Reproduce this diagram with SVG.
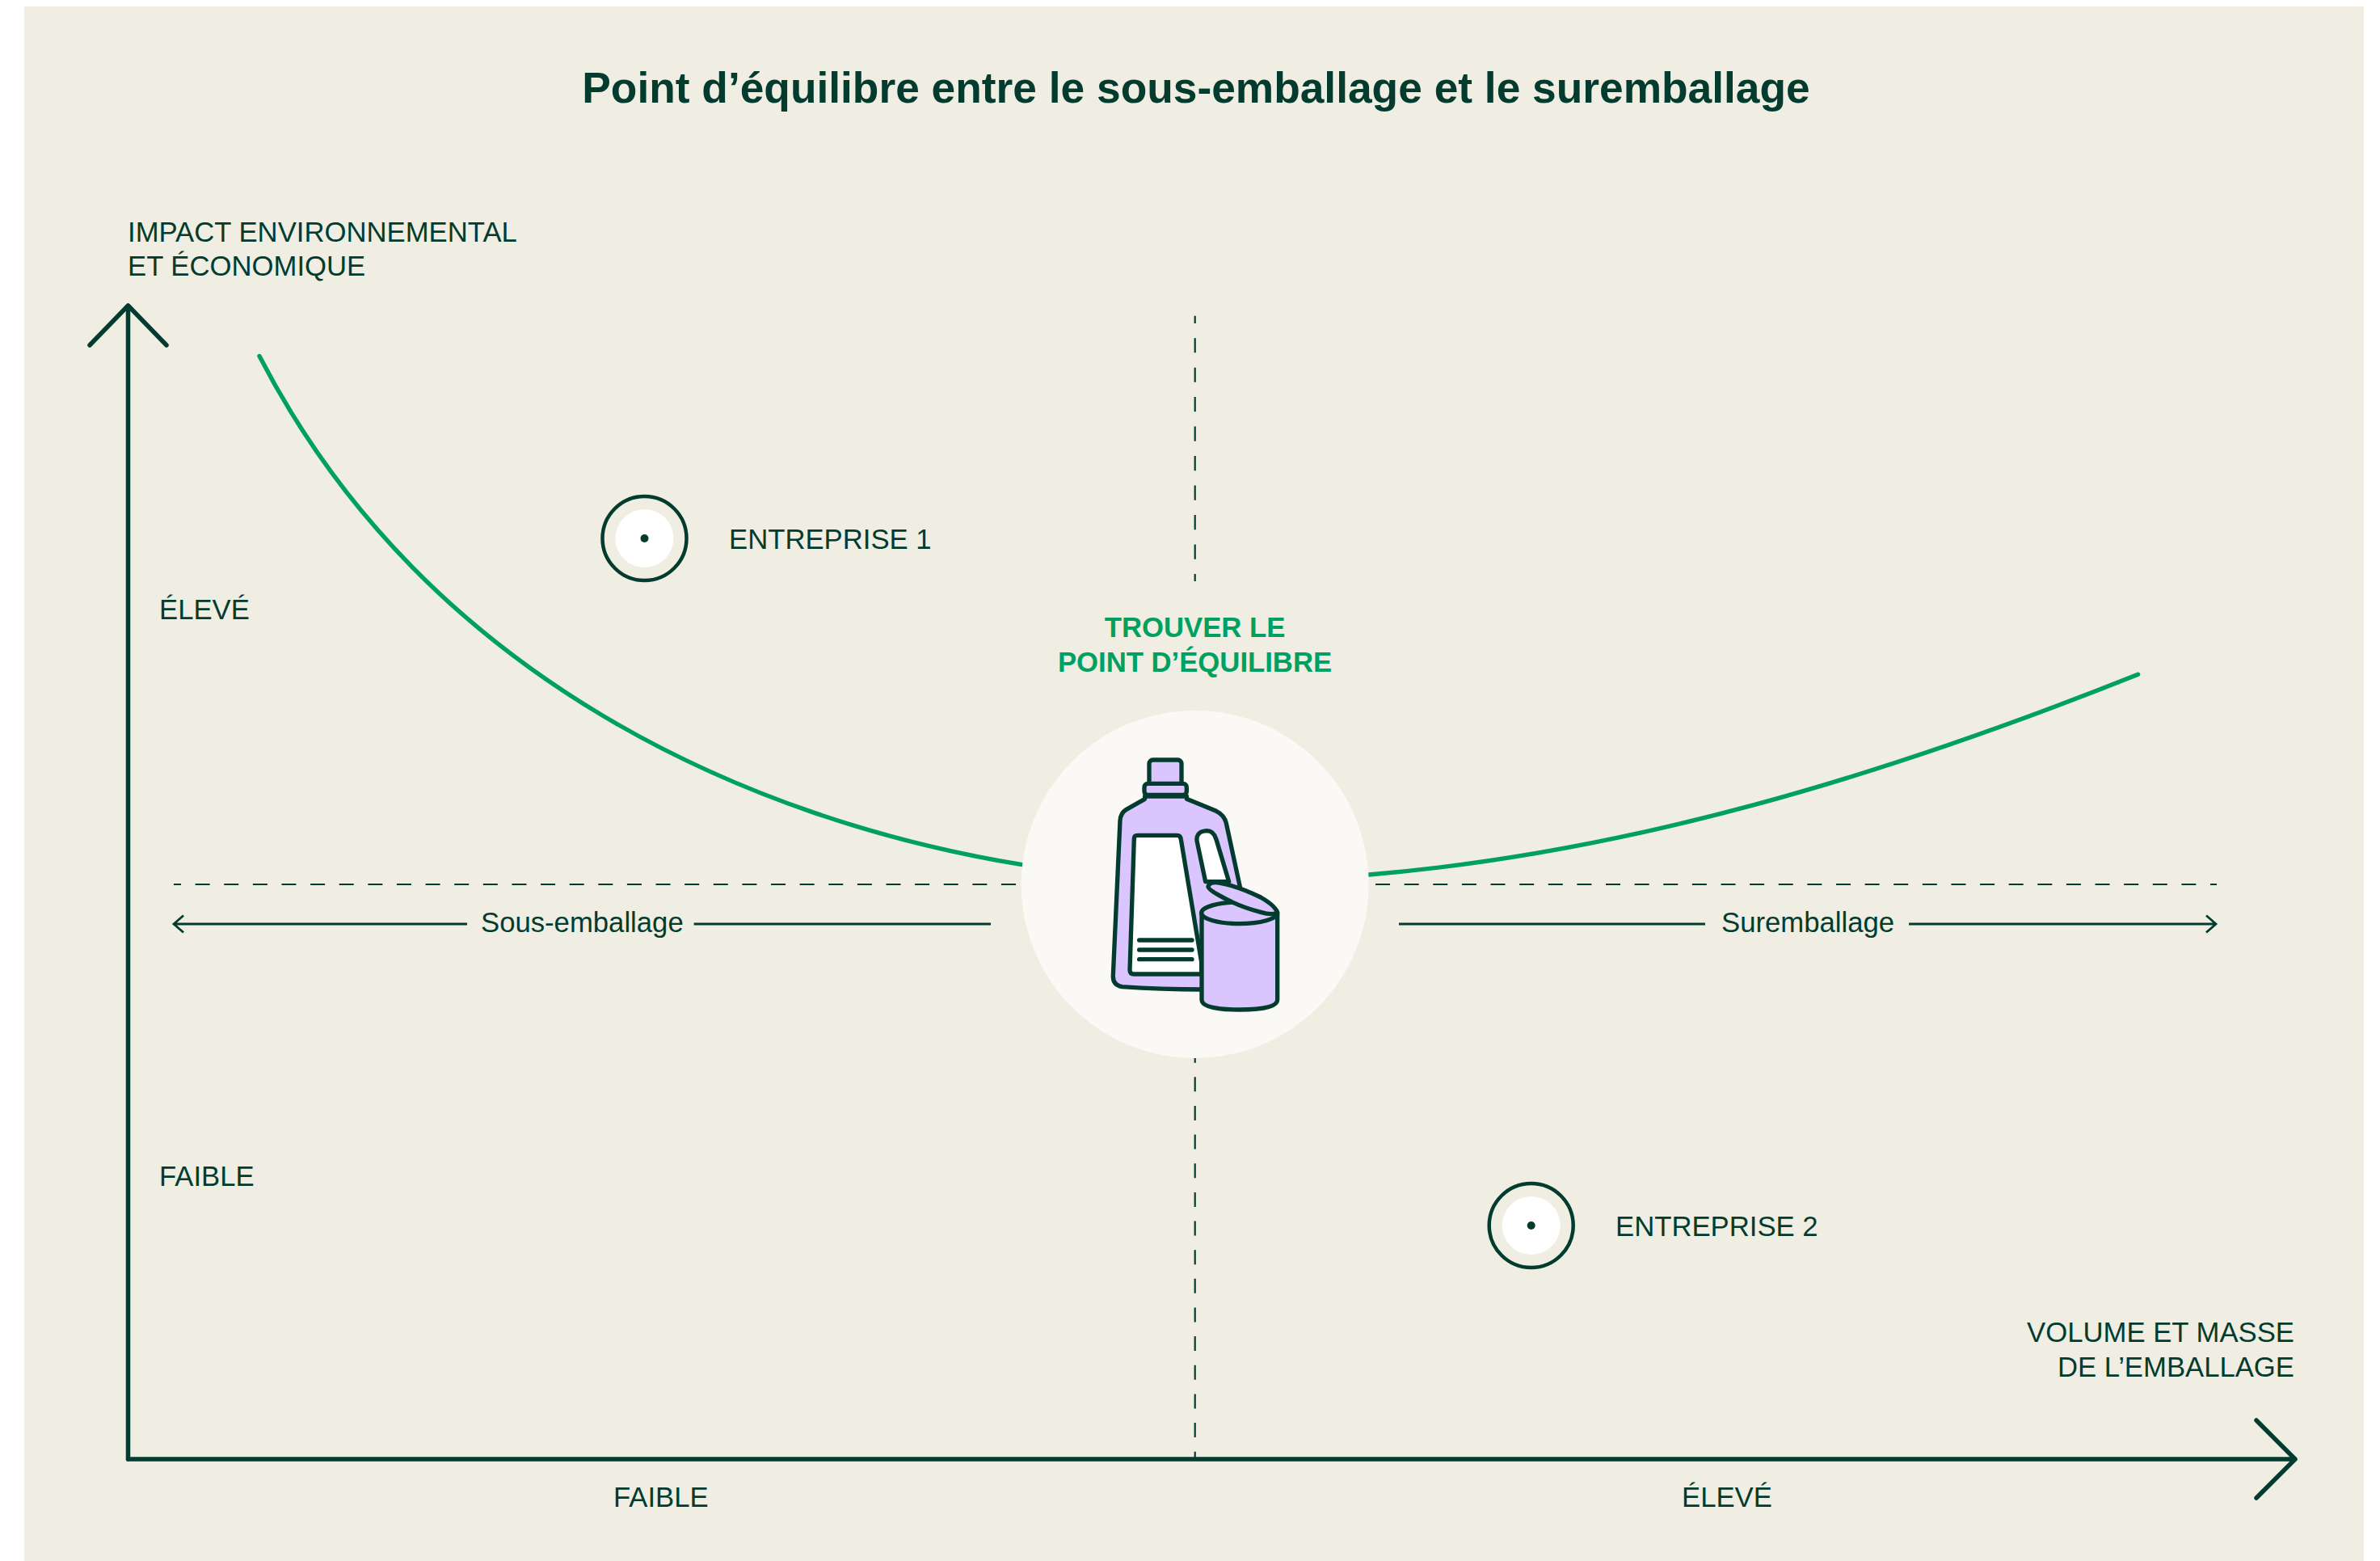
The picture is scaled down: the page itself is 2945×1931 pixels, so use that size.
<svg xmlns="http://www.w3.org/2000/svg" width="2945" height="1931" viewBox="0 0 2945 1931">
<style>
text{font-family:"Liberation Sans",Arial,sans-serif;font-size:34.7px;fill:#033c2f}
.b{font-weight:700}
.g{fill:#00a160}
.c{text-anchor:middle}
.e{text-anchor:end}
.ax{fill:none;stroke:#033c2f;stroke-width:5.5;stroke-linecap:round;stroke-linejoin:round}
.th{fill:none;stroke:#033c2f;stroke-width:2.8}
.da{fill:none;stroke:#033c2f;stroke-width:2.2}
.cu{fill:none;stroke:#00a160;stroke-width:5.4;stroke-linecap:round}
.ic{stroke:#033c2f;stroke-width:16;stroke-linejoin:round;stroke-linecap:round}
.pu{fill:#dac5ff}
.wh{fill:#fff}
</style>
<rect width="2945" height="1931" fill="#fff"/>
<rect x="30" y="8" width="2895" height="1923" fill="#f0ede2"/>
<text class="b c" x="1480" y="127" style="font-size:53.3px">Point d’équilibre entre le sous-emballage et le suremballage</text>
<g id="connectors">
<path class="da" d="M1478.7 390.7V719" stroke-dasharray="18.2 18.27" stroke-dashoffset="9"/>
<path class="da" d="M1478.7 1296.7V1805" stroke-dasharray="18 17.64"/>
<path class="da" d="M215 1094H2743" stroke-dasharray="18 17.62" stroke-dashoffset="9"/>
<path class="cu" d="M321 440.5C528 841 930 1015 1265 1069.7"/>
<path class="cu" d="M1694 1082C2014 1055 2325 962 2645.6 834.3"/>
<path class="ax" d="M158.5 1805V378M111 427L158.5 378L206 427"/>
<path class="ax" d="M158.5 1805H2840M2792 1757L2840 1805L2792 1853"/>
<path class="th" d="M578 1143H215M227 1132.5L215 1143L227 1153.5"/>
<path class="th" d="M858.6 1143H1226"/>
<path class="th" d="M1731 1143H2110"/>
<path class="th" d="M2362 1143H2742M2730 1132.5L2742 1143L2730 1153.5"/>
</g>
<g id="axis-labels">
<text x="158" y="299">IMPACT ENVIRONNEMENTAL</text>
<text x="158" y="341">ET ÉCONOMIQUE</text>
<text class="e" x="2839" y="1660">VOLUME ET MASSE</text>
<text class="e" x="2839" y="1702.7">DE L’EMBALLAGE</text>
<text x="197" y="766">ÉLEVÉ</text>
<text x="197" y="1467">FAIBLE</text>
<text x="759" y="1864">FAIBLE</text>
<text x="2081" y="1864">ÉLEVÉ</text>
<text x="595" y="1152.7">Sous-emballage</text>
<text x="2130" y="1152.7">Suremballage</text>
</g>
<g id="entreprise-1">
<circle cx="797.5" cy="666" r="52" fill="none" stroke="#033c2f" stroke-width="4.5"/>
<circle cx="797.5" cy="666" r="36" fill="#fff"/>
<circle cx="797.5" cy="666" r="5" fill="#033c2f"/>
<text x="902" y="679">ENTREPRISE 1</text>
</g>
<g id="entreprise-2">
<circle cx="1894.7" cy="1516" r="52" fill="none" stroke="#033c2f" stroke-width="4.5"/>
<circle cx="1894.7" cy="1516" r="36" fill="#fff"/>
<circle cx="1894.7" cy="1516" r="5" fill="#033c2f"/>
<text x="1999" y="1529">ENTREPRISE 2</text>
</g>
<g id="equilibre">
<circle cx="1478.7" cy="1094" r="215" fill="#faf9f5"/>
<text class="b g c" x="1478.5" y="787.7">TROUVER LE</text>
<text class="b g c" x="1478.5" y="830.7">POINT D’ÉQUILIBRE</text>
<g transform="translate(1240 860) scale(.33333)">
<rect class="ic pu" x="546" y="240" width="120" height="95" rx="14"/>
<path class="ic pu" d="M530 375V385L460 425Q440 437 438 465L412 1040Q410 1075 445 1082Q590 1092 745 1092V880L885 720L832 475Q825 445 795 430L685 385V375Z"/>
<rect class="ic pu" x="528" y="328" width="157" height="42" rx="13"/>
<path class="ic wh" d="M490 532Q490 520 502 520H650Q662 520 664 535L740 990V1035H490Q474 1035 474 1020Z"/>
<path class="ic wh" d="M723 540Q720 505 760 503Q785 503 795 535L842 692L755 692Z"/>
<path class="ic" fill="none" d="M509 909H705M509 945H705M509 980H705"/>
<path class="ic pu" d="M741 808V1130Q741 1167 881 1167Q1022 1167 1022 1130V808Z"/>
<ellipse class="ic pu" cx="881" cy="808" rx="141" ry="40"/>
<path class="ic pu" d="M765 710Q770 690 810 697Q880 710 960 750Q1020 785 1020 808Q1000 817 960 805Q880 785 810 745Q765 720 765 710Z"/>
</g>
</g>
</svg>
